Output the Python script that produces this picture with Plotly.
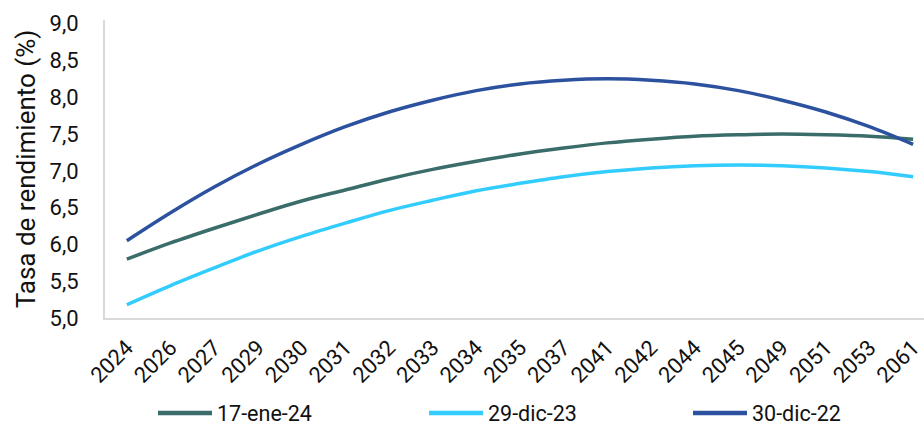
import plotly.graph_objects as go

# Maturity buckets (categorical x axis)
years = ["2024", "2026", "2027", "2029", "2030", "2031", "2032", "2033", "2034", "2035",
         "2037", "2041", "2042", "2044", "2045", "2049", "2051", "2053", "2061"]

# Yield curves (%) per observation date
curve_17ene24 = [5.80, 6.02, 6.22, 6.41, 6.59, 6.74, 6.89, 7.02, 7.13, 7.23,
                 7.31, 7.38, 7.43, 7.47, 7.49, 7.50, 7.49, 7.47, 7.43]
curve_29dic23 = [5.18, 5.44, 5.68, 5.91, 6.11, 6.29, 6.46, 6.60, 6.73, 6.83,
                 6.92, 6.99, 7.04, 7.07, 7.08, 7.07, 7.04, 6.99, 6.92]
curve_30dic22 = [6.05, 6.43, 6.78, 7.09, 7.36, 7.60, 7.80, 7.96, 8.09, 8.18,
                 8.23, 8.25, 8.23, 8.18, 8.09, 7.96, 7.80, 7.60, 7.36]

series_names = ["17-ene-24", "29-dic-23", "30-dic-22"]
series_values = [curve_17ene24, curve_29dic23, curve_30dic22]
series_colors = ["#3A6D6A", "#33CCFF", "#2C519E"]

W, H = 924, 428
ML, MR, MT, MB = 105, 0, 20, 110
FONT = "Roboto"
TXT = "#111111"

fig = go.Figure()
for name, vals, col in zip(series_names, series_values, series_colors):
    fig.add_trace(go.Scatter(
        x=years, y=vals, name=name, mode="lines",
        line=dict(color=col, width=3.5, shape="spline", smoothing=1.0),
        showlegend=False, cliponaxis=False,
    ))

# Legend drawn below the axis: short line sample followed by the label
plot_w = W - ML - MR
plot_h = H - MT - MB


def px_x(px):
    return (px - ML) / plot_w


def px_y(py):
    return (H - MB - py) / plot_h


legend_starts = [158, 429, 693]
legend_y = 413
for name, col, x0 in zip(series_names, series_colors, legend_starts):
    fig.add_shape(type="line", xref="paper", yref="paper",
                  x0=px_x(x0), x1=px_x(x0 + 54), y0=px_y(legend_y), y1=px_y(legend_y),
                  line=dict(color=col, width=4.5))
    fig.add_annotation(xref="paper", yref="paper", x=px_x(x0 + 57), y=px_y(legend_y),
                       text=name, showarrow=False, xanchor="left", yanchor="middle",
                       font=dict(family=FONT, size=21.5, color=TXT))

fig.update_layout(
    width=W, height=H,
    margin=dict(l=ML, r=MR, t=MT, b=MB, pad=0),
    paper_bgcolor="white", plot_bgcolor="white",
    separators=",.",
    font=dict(family=FONT, size=21, color=TXT),
    showlegend=False,
)
fig.update_xaxes(
    type="category", range=[-0.5, 18.25],
    showgrid=False, showline=True, linecolor="#D9D9D9", linewidth=2,
    ticks="", tickangle=-45, ticklabelstandoff=6,
    tickfont=dict(family=FONT, size=22, color=TXT),
)
fig.update_yaxes(
    range=[5, 9.05], tickvals=[5, 5.5, 6, 6.5, 7, 7.5, 8, 8.5, 9], tickformat=".1f",
    showgrid=False, showline=True, linecolor="#D9D9D9", linewidth=2, zeroline=False,
    ticks="", ticklabelstandoff=20, tickfont=dict(family=FONT, size=22, color=TXT),
    title=dict(text="Tasa de rendimiento (%)", font=dict(family=FONT, size=26, color=TXT),
               standoff=6),
)

fig.write_html("out.html")
